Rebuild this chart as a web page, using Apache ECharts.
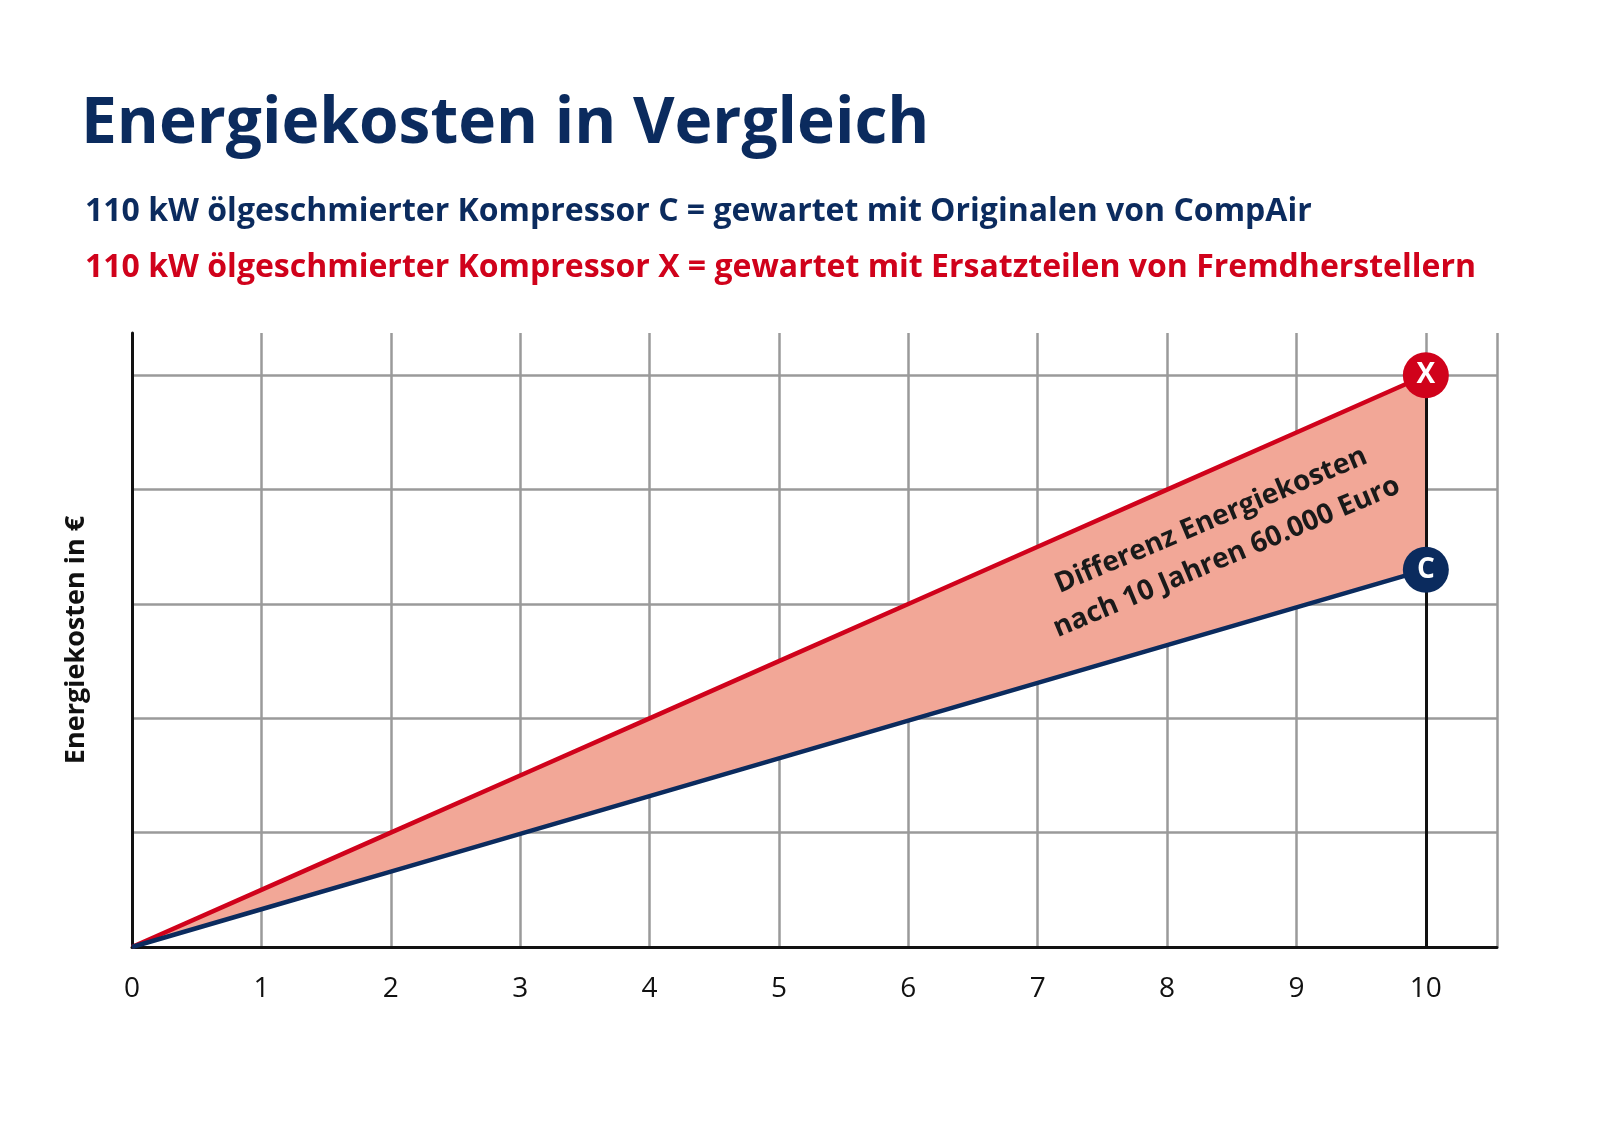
<!DOCTYPE html>
<html><head><meta charset="utf-8">
<script src="https://cdn.jsdelivr.net/npm/echarts@6/dist/echarts.min.js"></script>
<style>html,body{margin:0;background:#fff}#c{width:1600px;height:1131px}</style>
</head><body><div id="c"></div>
<script>
const years = [0,1,2,3,4,5,6,7,8,9,10];
const costC = [0,0.33,0.66,0.99,1.32,1.65,1.98,2.31,2.64,2.97,3.3];
const costX = [0,0.5,1,1.5,2,2.5,3,3.5,4,4.5,5];
const RED='#d0021b', NAVY='#0b2b5e', FONT='"Open Sans", "Noto Sans", sans-serif';
const chart = echarts.init(document.getElementById('c'));
const pairs = a => a.map((v,i)=>[years[i],v]);
chart.setOption({
  animation:false,
  title:[
    {text:'Energiekosten in Vergleich',left:76,top:88,textStyle:{fontFamily:FONT,fontSize:64,fontWeight:'bold',color:NAVY}},
    {text:'110 kW ölgeschmierter Kompressor C = gewartet mit Originalen von CompAir',left:80,top:191,textStyle:{fontFamily:FONT,fontSize:32,fontWeight:'bold',color:NAVY}},
    {text:'110 kW ölgeschmierter Kompressor X = gewartet mit Ersatzteilen von Fremdherstellern',left:80,top:247,textStyle:{fontFamily:FONT,fontSize:32,fontWeight:'bold',color:RED}}
  ],
  grid:{left:132,right:103,top:333,bottom:184,containLabel:false,outerBoundsMode:'none'},
  xAxis:{type:'value',min:0,max:10.55,interval:1,
    axisLine:{lineStyle:{color:'#111',width:3}},axisTick:{show:false},
    axisLabel:{fontFamily:FONT,fontSize:28,color:'#111',margin:28,formatter:v=>Number.isInteger(v)?String(v):'',showMaxLabel:false},
    splitLine:{show:true,lineStyle:{color:'#9a9a9a',width:2.5}}},
  yAxis:{type:'value',min:0,max:5.37,interval:1,name:'Energiekosten in €',nameLocation:'middle',nameGap:42,
    nameTextStyle:{fontFamily:FONT,fontSize:27,fontWeight:'bold',color:'#111'},
    axisLine:{show:true,lineStyle:{color:'#111',width:3}},axisTick:{show:false},axisLabel:{show:false},
    splitLine:{show:true,showMaxLine:false,lineStyle:{color:'#9a9a9a',width:2.5}}},
  series:[
    {type:'custom',silent:true,data:[0],z:2,
      renderItem:(params,api)=>{
        const pts = years.map((x,i)=>api.coord([x,costX[i]]));
        for(let i=years.length-1;i>=0;i--) pts.push(api.coord([years[i],costC[i]]));
        return {type:'polygon',shape:{points:pts},style:{fill:'#f2a797'}};
      },
      markLine:{symbol:'none',silent:true,label:{show:false},lineStyle:{color:'#111',width:3,type:'solid'},data:[[{coord:[10,0]},{coord:[10,5.0]}]]}},
    {type:'line',data:pairs(costX),symbol:'none',z:3,lineStyle:{color:RED,width:4.5}},
    {type:'line',data:pairs(costC),symbol:'none',z:3,lineStyle:{color:NAVY,width:4.5}},
    {type:'scatter',data:[[10,5]],symbolSize:46,itemStyle:{color:RED,opacity:1},z:10,
      label:{show:true,position:'inside',formatter:'X',color:'#fff',fontFamily:FONT,fontSize:28,fontWeight:'bold'}},
    {type:'scatter',data:[[10,3.3]],symbolSize:46,itemStyle:{color:NAVY,opacity:1},z:10,
      label:{show:true,position:'inside',formatter:'C',color:'#fff',fontFamily:FONT,fontSize:28,fontWeight:'bold'}}
  ]
});
const p = chart.convertToPixel({gridIndex:0},[8.4,3.57]);
chart.setOption({graphic:[{type:'text',x:p[0],y:p[1],rotation:0.4,z:20,
  style:{text:'Differenz Energiekosten\nnach 10 Jahren 60.000 Euro',align:'center',verticalAlign:'middle',
  fontFamily:FONT,fontSize:28,fontWeight:'bold',fill:'#1a1a1a',lineHeight:40}}]});
</script></body></html>
